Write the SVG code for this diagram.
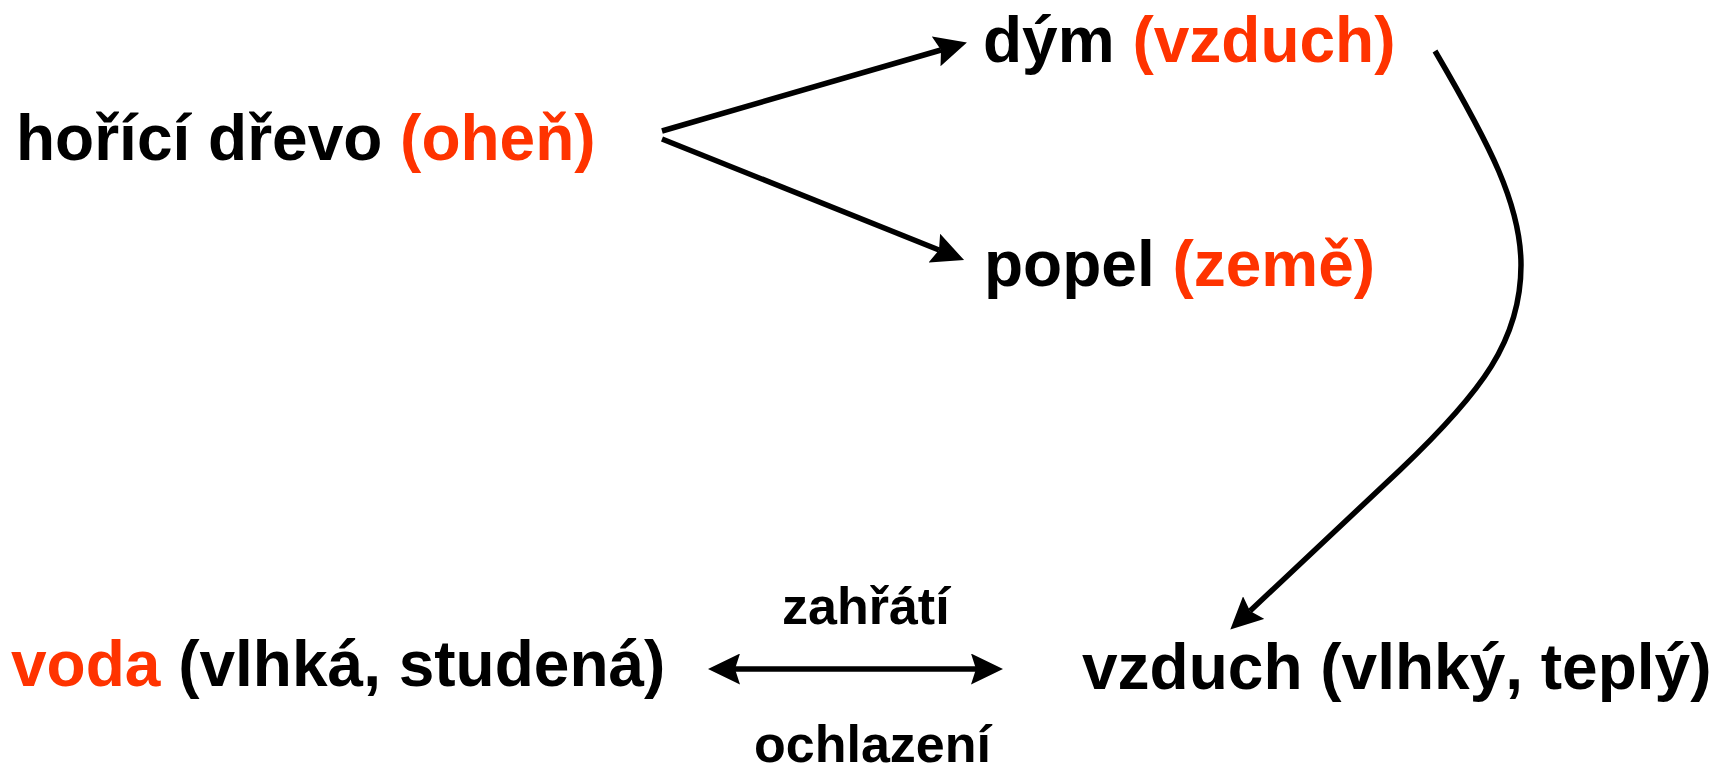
<svg xmlns="http://www.w3.org/2000/svg" width="1714" height="768" viewBox="0 0 1714 768">
<style>
text{font-family:"Liberation Sans",Arial,sans-serif;font-weight:bold;fill:#000}
.big{font-size:64px}
.small{font-size:52px}
.red{fill:#FF3300}
.conn{fill:none;stroke:#000;stroke-width:5.5}
</style>
<defs>
<marker id="ah" viewBox="0 0 32 31" refX="5" refY="15.5" markerWidth="32" markerHeight="31" markerUnits="userSpaceOnUse" orient="auto-start-reverse">
<path d="M0,0 L32,15.5 L0,31 L5,15.5 z" fill="#000"/>
</marker>
</defs>
<rect width="1714" height="768" fill="#fff"/>
<g id="connectors">
<path class="conn" d="M662,131 L941,50" marker-end="url(#ah)"/>
<path class="conn" d="M662,139 L939,250" marker-end="url(#ah)"/>
<path class="conn" d="M1435,51 C1490,145 1521,205 1521,265 C1521,340 1482,392 1400,470 L1250,611" marker-end="url(#ah)"/>
<path class="conn" d="M735,669 L976,669" marker-start="url(#ah)" marker-end="url(#ah)"/>
</g>
<g id="node-drevo"><text class="big" x="16" y="160">hořící dřevo <tspan class="red">(oheň)</tspan></text></g>
<g id="node-dym"><text class="big" x="983" y="62">dým <tspan class="red">(vzduch)</tspan></text></g>
<g id="node-popel"><text class="big" x="984" y="286">popel <tspan class="red">(země)</tspan></text></g>
<g id="node-voda"><text class="big" x="11" y="686"><tspan class="red">voda</tspan> (vlhká, studená)</text></g>
<g id="node-vzduch"><text class="big" x="1082" y="689">vzduch (vlhký, teplý)</text></g>
<g id="label-zahrati"><text class="small" x="782" y="624">zahřátí</text></g>
<g id="label-ochlazeni"><text class="small" x="754" y="762">ochlazení</text></g>
</svg>
